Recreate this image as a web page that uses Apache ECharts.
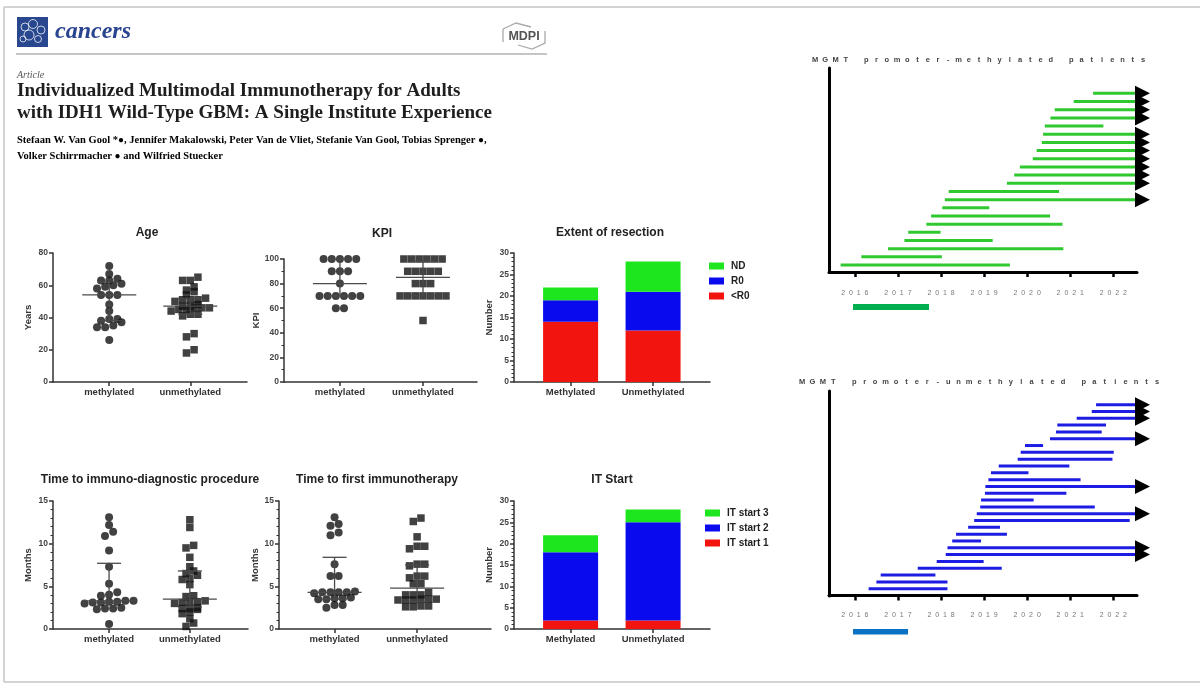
<!DOCTYPE html>
<html>
<head>
<meta charset="utf-8">
<script src="https://cdn.jsdelivr.net/npm/echarts@6/dist/echarts.min.js"></script>
<style>
  html, body { margin: 0; padding: 0; background: #fff; }
  #chart { width: 1200px; height: 686px; }
</style>
</head>
<body>
<div id="chart"></div>
<script>
// ---- data ----
const groups = ['methylated', 'unmethylated'];
const barGroups = ['Methylated', 'Unmethylated'];

// Age (years)
const ageMeth = [72, 67, 64, 63, 63, 61, 60, 59, 58, 54, 54, 54, 48, 44, 39, 39, 38, 37, 35, 34, 34, 26];
const ageUnmeth = [65, 63, 63, 59, 57, 56, 54, 52, 51, 51, 51, 50, 48, 47, 47, 46, 46, 46, 45, 45, 44, 42, 42, 41, 30, 28, 20, 18];
const ageMedian = [54, 47];
const ageLow = [38, 42];
const ageHigh = [62, 52];

// KPI
const kpiMeth = [100, 100, 100, 100, 100, 90, 90, 90, 80, 70, 70, 70, 70, 70, 70, 60, 60];
const kpiUnmeth = [100, 100, 100, 100, 100, 100, 90, 90, 90, 90, 90, 80, 80, 80, 70, 70, 70, 70, 70, 70, 70, 50];
const kpiMedian = [80, 85];
const kpiLow = [70, 70];
const kpiHigh = [100, 98];

// Time to immuno-diagnostic procedure (months)
const diagMeth = [13.1, 12.2, 11.4, 10.9, 9.2, 7.3, 5.3, 4.3, 4.0, 3.9, 3.3, 3.3, 3.2, 3.2, 3.1, 3.1, 3.0, 2.5, 2.4, 2.4, 2.3, 0.6];
const diagUnmeth = [12.8, 11.9, 9.8, 9.5, 8.4, 7.3, 6.8, 6.5, 6.3, 5.9, 5.8, 5.2, 3.9, 3.8, 3.3, 3.2, 3.2, 3.1, 3.0, 2.5, 2.4, 2.4, 2.3, 2.0, 1.8, 1.2, 0.7, 0.3];
const diagMedian = [3.3, 3.5];
const diagLow = [3.0, 2.6];
const diagHigh = [7.7, 6.8];

// Time to first immunotherapy (months)
const itMeth = [13.1, 12.3, 12.1, 11.3, 11.0, 7.6, 6.2, 6.2, 4.4, 4.3, 4.3, 4.3, 4.3, 4.2, 3.7, 3.6, 3.6, 3.5, 3.5, 2.8, 2.8, 2.5];
const itUnmeth = [13.0, 12.6, 10.8, 9.7, 9.4, 9.7, 7.6, 7.6, 7.4, 6.2, 6.0, 6.2, 5.3, 5.3, 4.3, 4.0, 4.0, 4.0, 3.5, 3.4, 3.4, 3.5, 3.4, 3.5, 2.7, 2.6, 2.7, 2.6];
const itMedian = [4.3, 4.8];
const itLow = [3.5, 3.2];
const itHigh = [8.4, 7.5];

// Extent of resection (patients)
const resLtR0 = [14, 12];
const resR0 = [5, 9];
const resND = [3, 7];

// IT start (patients)
const itStart1 = [2, 2];
const itStart2 = [16, 23];
const itStart3 = [4, 3];

// Swimmer plots: start / end in decimal years, null = ongoing (arrow)
const years = [2016, 2017, 2018, 2019, 2020, 2021, 2022];
const followUpEnd = 2022.55;
const methStart = [2015.67, 2016.15, 2016.77, 2017.15, 2017.24, 2017.66, 2017.77, 2018.03, 2018.09, 2018.18, 2019.53,
  2019.70, 2019.83, 2020.13, 2020.22, 2020.34, 2020.37, 2020.41, 2020.54, 2020.64, 2021.08, 2021.53];
const methEnd = [2019.60, 2018.02, 2020.84, 2019.20, 2017.99, 2020.82, 2020.53, 2019.12, null, 2020.74, null,
  null, null, null, null, null, null, 2021.77, null, null, null, null];
const unmethStart = [2016.32, 2016.50, 2016.60, 2017.46, 2017.90, 2018.11, 2018.15, 2018.26, 2018.35, 2018.63, 2018.77,
  2018.83, 2018.91, 2018.93, 2019.02, 2019.03, 2019.10, 2019.16, 2019.34, 2019.78, 2019.85, 2019.95, 2020.53, 2020.67,
  2020.70, 2021.15, 2021.50, 2021.60];
const unmethEnd = [2018.15, 2018.15, 2017.87, 2019.41, 2018.99, null, null, 2018.93, 2019.53, 2019.37, 2022.38,
  null, 2021.57, 2020.15, 2020.91, null, 2021.24, 2020.03, 2020.98, 2021.98, 2022.01, 2020.37, null, 2021.73,
  2021.83, null, null, null];

// ---- chart ----
const sans = '"Liberation Sans", Arial, sans-serif';
const serif = '"Liberation Serif", "Times New Roman", serif';
const axisColor = '#333';

const grid = [], xAxis = [], yAxis = [], series = [], legend = [], graphic = [];

// column scatter: close values share a row, each row centred on the group
const swarm = (vals, center, pxX, pxY, size) => {
  const out = [];
  let row = [];
  const flush = () => {
    row.forEach((v, i) => out.push([center + (i - (row.length - 1) / 2) * size * 1.02 / pxX, v]));
    row = [];
  };
  vals.slice().sort((a, b) => a - b).forEach(v => {
    if (row.length && (v - row[0]) * pxY > size * 0.62) flush();
    row.push(v);
  });
  flush();
  return out;
};

const statsRender = (params, api) => {
  const x = api.value(0);
  const m = api.coord([x, api.value(1)]);
  const lo = api.coord([x, api.value(2)]);
  const hi = api.coord([x, api.value(3)]);
  const st = { stroke: '#4a4a4a', lineWidth: 1.3 };
  return {
    type: 'group',
    children: [
      { type: 'line', shape: { x1: m[0] - 27, y1: m[1], x2: m[0] + 27, y2: m[1] }, style: st },
      { type: 'line', shape: { x1: lo[0], y1: lo[1], x2: hi[0], y2: hi[1] }, style: st },
      { type: 'line', shape: { x1: lo[0] - 12, y1: lo[1], x2: lo[0] + 12, y2: lo[1] }, style: st },
      { type: 'line', shape: { x1: hi[0] - 12, y1: hi[1], x2: hi[0] + 12, y2: hi[1] }, style: st }
    ]
  };
};

const addPanel = p => {
  const i = grid.length;
  grid.push({ left: p.left, top: p.top, width: p.width, height: p.height });
  xAxis.push({
    gridIndex: i, type: 'value', min: p.xMin, max: p.xMax,
    axisLine: { lineStyle: { color: axisColor, width: 1.5 } },
    axisTick: { customValues: [1, 2], length: 4, lineStyle: { color: axisColor, width: 1.5 } },
    axisLabel: {
      customValues: [1, 2], formatter: v => p.cats[Math.round(v) - 1], margin: 5,
      fontSize: 9.5, fontWeight: 'bold', color: '#333', fontFamily: sans
    },
    splitLine: { show: false }
  });
  yAxis.push({
    gridIndex: i, type: 'value', min: 0, max: p.yMax, interval: p.yStep,
    name: p.yName, nameLocation: 'middle', nameGap: p.nameGap,
    nameTextStyle: { fontSize: 9.5, fontWeight: 'bold', color: '#333', fontFamily: sans },
    axisLine: { show: true, lineStyle: { color: axisColor, width: 1.5 } },
    axisTick: { show: true, length: 4, lineStyle: { color: axisColor, width: 1.5 } },
    minorTick: { show: p.minor > 0, splitNumber: p.minor || 5, length: 2.5, lineStyle: { color: axisColor, width: 1 } },
    axisLabel: { fontSize: 8.5, fontWeight: 'bold', color: '#444', margin: 5, fontFamily: sans },
    splitLine: { show: false }
  });
  graphic.push({
    type: 'text', x: p.titleX, y: p.titleY,
    style: { text: p.title, fontSize: 12, fontWeight: 'bold', fontFamily: sans, fill: '#222', align: 'center', verticalAlign: 'middle' }
  });
  return i;
};

const addScatterPanel = (p, meth, unmeth, med, low, high) => {
  const i = addPanel(p);
  const pxX = p.width / (p.xMax - p.xMin);
  const pxY = p.height / p.yMax;
  series.push({
    type: 'scatter', xAxisIndex: i, yAxisIndex: i, symbol: 'circle', symbolSize: 8,
    itemStyle: { color: '#111' }, silent: true, data: swarm(meth, 1, pxX, pxY, 8)
  });
  series.push({
    type: 'scatter', xAxisIndex: i, yAxisIndex: i, symbol: 'rect', symbolSize: 7.5,
    itemStyle: { color: '#111' }, silent: true, data: swarm(unmeth, 2, pxX, pxY, 7.5)
  });
  series.push({
    type: 'custom', xAxisIndex: i, yAxisIndex: i, renderItem: statsRender, z: 5, silent: true,
    encode: { x: 0, y: [1, 2, 3] },
    data: [1, 2].map((x, k) => [x, med[k], low[k], high[k]])
  });
};

const addBarPanel = (p, stackName, parts, leg) => {
  addPanel(p);
  // hidden category grid whose two slots sit right on the visible axis ticks
  const pxX = p.width / (p.xMax - p.xMin);
  const j = grid.length;
  grid.push({ left: p.left + (1 - p.xMin) * pxX - pxX / 2, top: p.top, width: 2 * pxX, height: p.height });
  xAxis.push({ gridIndex: j, type: 'category', data: p.cats, show: false });
  yAxis.push({ gridIndex: j, type: 'value', min: 0, max: p.yMax, show: false, splitLine: { show: false } });
  parts.forEach(part => {
    series.push({
      type: 'bar', name: part.name, xAxisIndex: j, yAxisIndex: j, stack: stackName, barWidth: 55,
      itemStyle: { color: part.color }, silent: true, data: part.values
    });
  });
  legend.push({
    data: parts.map(pt => pt.name).reverse(), orient: 'vertical', left: leg.left, top: leg.top,
    itemWidth: 15, itemHeight: 7, itemGap: 5, icon: 'rect', selectedMode: false,
    textStyle: { fontSize: 10, fontWeight: 'bold', color: '#222', fontFamily: sans, padding: [0, 0, 0, 2] }
  });
};

const swimRender = color => (params, api) => {
  const row = api.value(0);
  const p0 = api.coord([api.value(1), row]);
  const p1 = api.coord([api.value(2), row]);
  const children = [{
    type: 'rect', shape: { x: p0[0], y: p0[1] - 1.5, width: p1[0] - p0[0], height: 3 }, style: { fill: color }
  }];
  if (api.value(3)) {
    children.push({
      type: 'polygon',
      shape: { points: [[p1[0] - 2, p1[1] - 7.5], [p1[0] + 13, p1[1]], [p1[0] - 2, p1[1] + 7.5]] },
      style: { fill: '#000' }
    });
  }
  return { type: 'group', children };
};

const spacedTitle = (str, x0, x1, y) => {
  const chars = str.split('');
  const step = (x1 - x0) / (chars.length - 1);
  chars.forEach((c, k) => {
    if (c === ' ') return;
    graphic.push({
      type: 'text', x: x0 + k * step, y,
      style: { text: c, fontSize: 7.5, fontWeight: 'bold', fontFamily: sans, fill: '#444', align: 'center', verticalAlign: 'middle' }
    });
  });
};

const addSwimmer = (g, starts, ends, color, title) => {
  const i = grid.length;
  grid.push({ left: g.left, top: g.top, width: g.width, height: g.height });
  xAxis.push({
    gridIndex: i, type: 'value', min: 2015.4, max: followUpEnd,
    axisLine: { lineStyle: { color: '#000', width: 3 } },
    axisTick: { customValues: years, length: 5, lineStyle: { color: '#000', width: 2.5 } },
    axisLabel: {
      customValues: years, formatter: v => String(v).split('').join('  '),
      fontSize: 7, color: '#777', margin: g.labelMargin, fontFamily: sans
    },
    splitLine: { show: false }
  });
  yAxis.push({
    gridIndex: i, type: 'value', min: g.yMin, max: g.yMax,
    axisLine: { show: true, lineStyle: { color: '#000', width: 3 } },
    axisTick: { show: false }, axisLabel: { show: false }, splitLine: { show: false }
  });
  series.push({
    type: 'custom', xAxisIndex: i, yAxisIndex: i, clip: false, silent: true,
    renderItem: swimRender(color), encode: { x: [1, 2], y: 0 },
    data: starts.map((s, k) => [k + 1, s, ends[k] == null ? followUpEnd : ends[k], ends[k] == null ? 1 : 0])
  });
  spacedTitle(title, g.titleX0, g.titleX1, g.titleY);
};

// ---- panels ----
addScatterPanel({ title: 'Age', titleX: 147, titleY: 233, left: 53, top: 253, width: 194, height: 129,
  xMin: 0.306, xMax: 2.70, yMax: 80, yStep: 20, minor: 0, yName: 'Years', nameGap: 20, cats: groups },
  ageMeth, ageUnmeth, ageMedian, ageLow, ageHigh);
addScatterPanel({ title: 'KPI', titleX: 382, titleY: 234, left: 284, top: 259, width: 193, height: 123,
  xMin: 0.327, xMax: 2.65, yMax: 100, yStep: 20, minor: 2, yName: 'KPI', nameGap: 23, cats: groups },
  kpiMeth, kpiUnmeth, kpiMedian, kpiLow, kpiHigh);
addScatterPanel({ title: 'Time to immuno-diagnostic procedure', titleX: 150, titleY: 480, left: 53, top: 501, width: 195, height: 128,
  xMin: 0.306, xMax: 2.72, yMax: 15, yStep: 5, minor: 5, yName: 'Months', nameGap: 20, cats: groups },
  diagMeth, diagUnmeth, diagMedian, diagLow, diagHigh);
addScatterPanel({ title: 'Time to first immunotherapy', titleX: 377, titleY: 480, left: 279, top: 501, width: 212, height: 128,
  xMin: 0.327, xMax: 2.895, yMax: 15, yStep: 5, minor: 5, yName: 'Months', nameGap: 17, cats: groups },
  itMeth, itUnmeth, itMedian, itLow, itHigh);

addBarPanel({ title: 'Extent of resection', titleX: 610, titleY: 233, left: 514, top: 253, width: 196, height: 129,
  xMin: 0.314, xMax: 2.69, yMax: 30, yStep: 5, minor: 5, yName: 'Number', nameGap: 20, cats: barGroups }, 'res', [
  { name: '<R0', values: resLtR0, color: '#f2150f' },
  { name: 'R0', values: resR0, color: '#0a0aee' },
  { name: 'ND', values: resND, color: '#1ee61e' }
], { left: 704, top: 256 });
addBarPanel({ title: 'IT Start', titleX: 612, titleY: 480, left: 514, top: 501, width: 196, height: 128,
  xMin: 0.314, xMax: 2.69, yMax: 30, yStep: 5, minor: 5, yName: 'Number', nameGap: 20, cats: barGroups }, 'its', [
  { name: 'IT start 1', values: itStart1, color: '#f2150f' },
  { name: 'IT start 2', values: itStart2, color: '#0a0aee' },
  { name: 'IT start 3', values: itStart3, color: '#1ee61e' }
], { left: 700, top: 503 });

addSwimmer({ left: 829, top: 68, width: 308, height: 204, yMin: 0.15, yMax: 25.1, labelMargin: 18,
  titleX0: 815, titleX1: 1143, titleY: 60 }, methStart, methEnd, '#2fc82f', 'MGMT promoter-methylated patients');
addSwimmer({ left: 829, top: 391, width: 308, height: 205, yMin: -0.07, yMax: 30, labelMargin: 16,
  titleX0: 802, titleX1: 1157, titleY: 382 }, unmethStart, unmethEnd, '#1c1ce2', 'MGMT promoter-unmethylated patients');

// legend strips under the swimmer plots
graphic.push({ type: 'rect', shape: { x: 853, y: 304, width: 76, height: 6 }, style: { fill: '#00ae50' } });
graphic.push({ type: 'rect', shape: { x: 853, y: 629, width: 55, height: 5.5 }, style: { fill: '#0a72c4' } });

// ---- page header of the article ----
const frame = { stroke: '#c4c4c4', lineWidth: 1.5 };
graphic.push(
  { type: 'line', shape: { x1: 4, y1: 7, x2: 1200, y2: 7 }, style: frame },
  { type: 'line', shape: { x1: 4, y1: 7, x2: 4, y2: 682 }, style: frame },
  { type: 'line', shape: { x1: 4, y1: 682, x2: 1200, y2: 682 }, style: frame },
  { type: 'rect', shape: { x: 17, y: 17, width: 31, height: 30 }, style: { fill: '#28478f' } }
);
[[25, 27, 4], [33, 24, 4.5], [41, 30, 4], [29, 35, 5], [38, 39, 3.5], [23, 39, 3]].forEach(c => {
  graphic.push({ type: 'circle', shape: { cx: c[0], cy: c[1], r: c[2] }, style: { fill: 'none', stroke: 'rgba(255,255,255,0.75)', lineWidth: 1 } });
});
graphic.push(
  { type: 'text', x: 55, y: 32, style: { text: 'cancers', fontSize: 24, fontWeight: 'bold', fontStyle: 'italic', fontFamily: serif, fill: '#2a4590', verticalAlign: 'middle' } },
  { type: 'polyline', shape: { points: [[503, 29], [516, 23], [531, 27]] }, style: { stroke: '#aaa', lineWidth: 1.3, fill: 'none' } },
  { type: 'polyline', shape: { points: [[545, 31], [545, 43], [532, 49], [518, 45]] }, style: { stroke: '#aaa', lineWidth: 1.3, fill: 'none' } },
  { type: 'polyline', shape: { points: [[503, 29], [503, 42]] }, style: { stroke: '#aaa', lineWidth: 1.3, fill: 'none' } },
  { type: 'text', x: 524, y: 36.5, style: { text: 'MDPI', fontSize: 12.5, fontWeight: 'bold', fontFamily: sans, fill: '#555', align: 'center', verticalAlign: 'middle' } },
  { type: 'line', shape: { x1: 16, y1: 54, x2: 547, y2: 54 }, style: { stroke: '#8c8c8c', lineWidth: 1.2 } },
  { type: 'text', x: 17, y: 75, style: { text: 'Article', fontSize: 10, fontStyle: 'italic', fontFamily: serif, fill: '#555', verticalAlign: 'middle' } },
  { type: 'text', x: 17, y: 91, style: { text: 'Individualized Multimodal Immunotherapy for Adults', fontSize: 19, fontWeight: 'bold', fontFamily: serif, fill: '#1e1e1e', verticalAlign: 'middle' } },
  { type: 'text', x: 17, y: 113, style: { text: 'with IDH1 Wild-Type GBM: A Single Institute Experience', fontSize: 19, fontWeight: 'bold', fontFamily: serif, fill: '#1e1e1e', verticalAlign: 'middle' } }
);
const authorRich = {
  a: { fontSize: 10.5, fontWeight: 'bold', fontFamily: serif, color: '#333' },
  o: { fontSize: 10, color: '#a6ce39' }
};
graphic.push(
  { type: 'text', x: 17, y: 140, style: { text: '{a|Stefaan W. Van Gool *}{o|●}{a|, Jennifer Makalowski, Peter Van de Vliet, Stefanie Van Gool, Tobias Sprenger }{o|●}{a|,}', rich: authorRich, verticalAlign: 'middle' } },
  { type: 'text', x: 17, y: 156, style: { text: '{a|Volker Schirrmacher }{o|●}{a| and Wilfried Stuecker}', rich: authorRich, verticalAlign: 'middle' } }
);

const chart = echarts.init(document.getElementById('chart'));
chart.setOption({
  backgroundColor: '#fff',
  animation: false,
  grid, xAxis, yAxis, series, legend, graphic
});
</script>
</body>
</html>
